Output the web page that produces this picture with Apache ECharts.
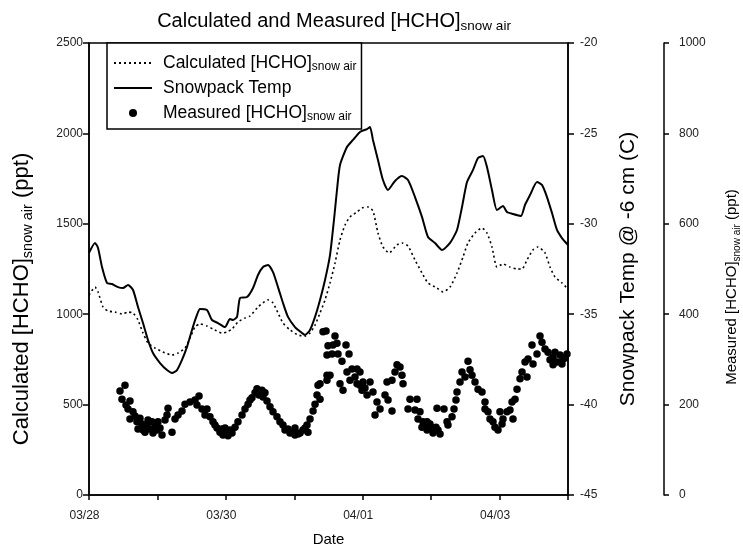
<!DOCTYPE html>
<html>
<head>
<meta charset="utf-8">
<script src="https://cdn.jsdelivr.net/npm/echarts@6/dist/echarts.min.js"></script>
<style>
  html, body { margin: 0; padding: 0; background: #fff; }
  #chart { width: 743px; height: 550px; }
</style>
</head>
<body>
<div id="chart"></div>
<script>
// x values are days since 03/28 00:00
const dateLabels = ['03/28', '', '03/30', '', '04/01', '', '04/03', ''];

// calculated [HCHO] snow air (ppt), left axis
const calcLine = [
  [0, 1106], [0.088, 1150], [0.132, 1123], [0.205, 1040], [0.278, 1018], [0.380, 1012],
  [0.482, 1001], [0.570, 1012], [0.643, 1007], [0.716, 968], [0.789, 896], [0.862, 841],
  [0.964, 813], [1.081, 791], [1.213, 774], [1.301, 785], [1.403, 813], [1.476, 868],
  [1.549, 929], [1.622, 946], [1.724, 935], [1.812, 918], [1.944, 896], [2.017, 902],
  [2.090, 918], [2.177, 957], [2.280, 979], [2.353, 990], [2.470, 1040], [2.616, 1079],
  [2.689, 1062], [2.762, 1007], [2.835, 951], [2.937, 913], [3.054, 885], [3.157, 879],
  [3.230, 896], [3.303, 940], [3.376, 1007], [3.449, 1079], [3.522, 1173], [3.595, 1283],
  [3.668, 1410], [3.741, 1493], [3.814, 1538], [3.916, 1565], [3.989, 1587], [4.077, 1593],
  [4.150, 1571], [4.223, 1449], [4.296, 1372], [4.384, 1339], [4.501, 1383], [4.574, 1394],
  [4.662, 1377], [4.764, 1300], [4.866, 1228], [4.954, 1173], [5.085, 1145], [5.173, 1123],
  [5.276, 1150], [5.378, 1228], [5.465, 1316], [5.538, 1394], [5.641, 1449], [5.743, 1477],
  [5.816, 1449], [5.889, 1372], [5.962, 1261], [6.050, 1278], [6.152, 1261], [6.255, 1250],
  [6.328, 1250], [6.401, 1300], [6.488, 1355], [6.561, 1372], [6.664, 1339], [6.737, 1261],
  [6.810, 1206], [6.912, 1173], [6.985, 1145]
];

// snowpack temperature at -6 cm (C), first right axis
const tempLine = [
  [0, -31.61], [0.088, -31.06], [0.132, -31.34], [0.190, -32.39], [0.263, -33.27], [0.336, -33.33],
  [0.424, -33.50], [0.497, -33.55], [0.570, -33.38], [0.643, -33.66], [0.716, -34.60], [0.789, -35.49],
  [0.862, -36.43], [0.935, -37.15], [1.038, -37.70], [1.140, -38.09], [1.213, -38.25], [1.286, -38.09],
  [1.359, -37.53], [1.432, -36.81], [1.505, -35.87], [1.578, -35.04], [1.622, -34.71], [1.724, -34.77],
  [1.797, -35.32], [1.885, -35.49], [1.987, -35.71], [2.060, -35.27], [2.104, -35.32], [2.163, -35.15],
  [2.207, -34.10], [2.309, -34.05], [2.397, -33.55], [2.470, -32.83], [2.543, -32.39], [2.616, -32.28],
  [2.689, -32.67], [2.762, -33.50], [2.835, -34.38], [2.908, -35.15], [3.010, -35.71], [3.113, -36.04],
  [3.157, -36.15], [3.230, -35.87], [3.303, -35.15], [3.376, -34.21], [3.449, -33.11], [3.522, -31.73],
  [3.580, -29.79], [3.624, -28.13], [3.668, -26.75], [3.770, -25.75], [3.858, -25.36], [3.960, -24.92],
  [4.063, -24.76], [4.106, -24.65], [4.150, -25.36], [4.223, -26.47], [4.296, -27.58], [4.369, -28.13],
  [4.472, -27.63], [4.574, -27.36], [4.662, -27.58], [4.764, -28.52], [4.866, -29.62], [4.954, -30.73],
  [5.056, -31.06], [5.159, -31.45], [5.276, -31.06], [5.378, -30.34], [5.451, -29.07], [5.524, -27.69],
  [5.612, -27.02], [5.685, -26.36], [5.758, -26.25], [5.816, -26.86], [5.889, -28.13], [5.962, -29.24],
  [6.050, -29.02], [6.108, -29.35], [6.196, -29.46], [6.313, -29.57], [6.371, -28.96], [6.445, -28.41],
  [6.547, -27.69], [6.620, -27.85], [6.693, -28.52], [6.766, -29.40], [6.839, -30.34], [6.912, -30.79],
  [7.000, -31.17]
];

// measured [HCHO] snow air (ppt), second right axis
const measPoints = [
  [0.453, 230], [0.482, 212], [0.526, 243], [0.541, 199], [0.570, 190], [0.599, 208], [0.599, 168],
  [0.643, 184], [0.672, 175], [0.701, 162], [0.716, 146], [0.745, 170], [0.775, 157], [0.789, 144],
  [0.818, 139], [0.848, 155], [0.862, 166], [0.891, 146], [0.921, 162], [0.935, 137], [0.965, 150],
  [0.994, 144], [1.008, 162], [1.038, 148], [1.067, 133], [1.111, 166], [1.140, 177], [1.155, 192],
  [1.213, 139], [1.257, 168], [1.301, 177], [1.359, 186], [1.403, 201], [1.476, 206], [1.549, 210],
  [1.578, 199], [1.608, 219], [1.651, 190], [1.695, 177], [1.724, 190], [1.768, 173], [1.812, 162],
  [1.841, 155], [1.871, 148], [1.914, 139], [1.944, 146], [1.958, 133], [1.988, 148], [2.017, 139],
  [2.031, 131], [2.061, 144], [2.090, 137], [2.134, 150], [2.177, 162], [2.236, 177], [2.280, 190],
  [2.324, 201], [2.353, 210], [2.382, 215], [2.426, 226], [2.455, 235], [2.484, 221], [2.528, 232],
  [2.543, 217], [2.572, 226], [2.601, 208], [2.645, 195], [2.689, 184], [2.747, 173], [2.791, 162],
  [2.835, 155], [2.864, 144], [2.908, 146], [2.937, 137], [2.981, 139], [3.010, 133], [3.010, 148],
  [3.054, 135], [3.084, 137], [3.127, 144], [3.157, 148], [3.186, 155], [3.200, 139], [3.230, 168],
  [3.274, 186], [3.303, 201], [3.332, 221], [3.347, 243], [3.376, 212], [3.376, 246], [3.420, 361],
  [3.464, 363], [3.478, 310], [3.478, 265], [3.478, 254], [3.493, 330], [3.522, 265], [3.551, 312],
  [3.566, 332], [3.595, 352], [3.624, 336], [3.639, 312], [3.668, 246], [3.697, 296], [3.712, 232],
  [3.756, 332], [3.770, 272], [3.800, 312], [3.814, 254], [3.843, 279], [3.887, 261], [3.917, 279],
  [3.917, 246], [3.960, 272], [3.960, 243], [3.990, 232], [4.004, 250], [4.033, 237], [4.063, 221],
  [4.107, 250], [4.150, 228], [4.180, 177], [4.209, 206], [4.253, 190], [4.326, 221], [4.355, 250],
  [4.370, 210], [4.428, 254], [4.428, 186], [4.472, 272], [4.501, 288], [4.545, 283], [4.574, 265],
  [4.589, 246], [4.662, 190], [4.691, 212], [4.764, 188], [4.793, 212], [4.808, 168], [4.837, 184],
  [4.866, 150], [4.881, 162], [4.910, 153], [4.940, 144], [4.940, 162], [4.983, 157], [5.027, 148],
  [5.027, 137], [5.071, 150], [5.086, 192], [5.100, 144], [5.130, 135], [5.188, 190], [5.232, 162],
  [5.246, 155], [5.305, 173], [5.334, 190], [5.363, 210], [5.378, 228], [5.422, 250], [5.451, 272],
  [5.495, 261], [5.539, 296], [5.568, 277], [5.597, 265], [5.641, 250], [5.685, 234], [5.743, 228],
  [5.787, 206], [5.787, 190], [5.831, 184], [5.860, 168], [5.904, 162], [5.933, 150], [5.977, 144],
  [6.006, 184], [6.036, 157], [6.050, 168], [6.109, 184], [6.152, 188], [6.182, 206], [6.196, 168],
  [6.226, 212], [6.255, 234], [6.299, 257], [6.328, 272], [6.372, 294], [6.401, 261], [6.416, 301],
  [6.474, 332], [6.489, 290], [6.547, 312], [6.591, 352], [6.620, 338], [6.664, 323], [6.708, 316],
  [6.737, 299], [6.781, 305], [6.781, 288], [6.810, 316], [6.839, 294], [6.883, 310], [6.912, 290],
  [6.927, 301], [6.956, 303], [6.985, 312]
];

const FONT = '"Liberation Sans", Arial, sans-serif';
const legendNames = {
  calc: 'Calculated [HCHO]{sub|snow air}',
  temp: 'Snowpack Temp',
  meas: 'Measured [HCHO]{sub|snow air}'
};

const chart = echarts.init(document.getElementById('chart'), null, { renderer: 'canvas' });

const subStyle = (size) => ({ fontSize: size, fontFamily: FONT, color: '#000', verticalAlign: 'bottom', lineHeight: size });
const plain = (v) => String(v);

const option = {
  animation: false,
  backgroundColor: '#fff',
  textStyle: { fontFamily: FONT, color: '#000' },
  title: {
    text: 'Calculated and Measured [HCHO]{sub|snow air}',
    left: 329,
    top: 4,
    textAlign: 'center',
    textStyle: {
      fontFamily: FONT, fontSize: 20, fontWeight: 'normal', color: '#000', lineHeight: 24,
      rich: { sub: subStyle(13.5) }
    }
  },
  legend: {
    orient: 'vertical',
    left: 107,
    top: 43,
    padding: [10, 5, 6, 6],
    itemWidth: 38,
    itemHeight: 8,
    itemGap: 5,
    backgroundColor: '#fff',
    borderColor: '#000',
    borderWidth: 1.5,
    borderRadius: 0,
    formatter: (name) => legendNames[name],
    textStyle: {
      fontFamily: FONT, fontSize: 17.5, color: '#000', lineHeight: 20, padding: [0, 0, 0, 6],
      rich: { sub: subStyle(12) }
    },
    data: [
      { name: 'calc', itemStyle: { opacity: 0 } },
      { name: 'temp', itemStyle: { opacity: 0 } },
      { name: 'meas', icon: 'circle' }
    ]
  },
  grid: {
    left: 89, right: 175, top: 43, bottom: 55,
    outerBoundsMode: 'none',
    containLabel: false,
    show: true, borderColor: '#000', borderWidth: 1.5, backgroundColor: 'transparent'
  },
  xAxis: {
    type: 'value',
    min: 0, max: 7, interval: 1,
    name: 'Date',
    nameLocation: 'middle',
    nameGap: 37,
    nameTextStyle: { fontFamily: FONT, fontSize: 15, color: '#000' },
    axisLine: { show: true, lineStyle: { color: '#000', width: 1.5 } },
    axisTick: { show: true, length: 5, lineStyle: { color: '#000', width: 1.5 } },
    axisLabel: {
      fontFamily: FONT, fontSize: 12, color: '#222', margin: 15, padding: [0, 9, 0, 0],
      formatter: (v) => dateLabels[Math.round(v)] || ''
    },
    splitLine: { show: false }
  },
  yAxis: [
    {
      type: 'value', position: 'left',
      min: 0, max: 2500, interval: 500,
      name: 'Calculated [HCHO]{sub|snow air} (ppt)',
      nameLocation: 'middle', nameRotate: 90, nameGap: 54,
      nameTextStyle: {
        fontFamily: FONT, fontSize: 22, color: '#000', lineHeight: 27, padding: [0, 60, 0, 0],
        rich: { sub: subStyle(14.5) }
      },
      axisLine: { show: true, lineStyle: { color: '#000', width: 1.5 } },
      axisTick: { show: true, length: 6, lineStyle: { color: '#000', width: 1.5 } },
      axisLabel: { fontFamily: FONT, fontSize: 12, color: '#222', margin: 6, formatter: plain },
      splitLine: { show: false }
    },
    {
      type: 'value', position: 'right', offset: 0,
      min: -45, max: -20, interval: 5,
      name: 'Snowpack Temp @ -6 cm (C)',
      nameLocation: 'middle', nameRotate: 90, nameGap: 50,
      nameTextStyle: { fontFamily: FONT, fontSize: 21, color: '#000' },
      axisLine: { show: true, lineStyle: { color: '#000', width: 1.5 } },
      axisTick: { show: true, length: 6, lineStyle: { color: '#000', width: 1.5 } },
      axisLabel: { fontFamily: FONT, fontSize: 12, color: '#222', margin: 12, formatter: plain },
      splitLine: { show: false }
    },
    {
      type: 'value', position: 'right', offset: 96,
      min: 0, max: 1000, interval: 200,
      name: 'Measured [HCHO]{sub|snow air} (ppt)',
      nameLocation: 'middle', nameRotate: 90, nameGap: 58,
      nameTextStyle: {
        fontFamily: FONT, fontSize: 15, color: '#000', lineHeight: 20, padding: [0, 36, 0, 0],
        rich: { sub: subStyle(10) }
      },
      axisLine: { show: true, lineStyle: { color: '#000', width: 1.5 } },
      axisTick: { show: true, length: 5, lineStyle: { color: '#000', width: 1.5 } },
      axisLabel: { fontFamily: FONT, fontSize: 12, color: '#222', margin: 15, formatter: plain },
      splitLine: { show: false }
    }
  ],
  series: [
    {
      name: 'calc', type: 'line', yAxisIndex: 0,
      data: calcLine, showSymbol: false, symbol: 'none', smooth: 0.2,
      lineStyle: { color: '#000', width: 1.6, type: [2, 3] },
      itemStyle: { color: '#000' }
    },
    {
      name: 'temp', type: 'line', yAxisIndex: 1,
      data: tempLine, showSymbol: false, symbol: 'none', smooth: 0.2,
      lineStyle: { color: '#000', width: 2 },
      itemStyle: { color: '#000' }
    },
    {
      name: 'meas', type: 'scatter', yAxisIndex: 2,
      data: measPoints, symbol: 'circle', symbolSize: 7.5,
      itemStyle: { color: '#000', opacity: 1 }
    }
  ]
};

chart.setOption(option);
</script>
</body>
</html>
